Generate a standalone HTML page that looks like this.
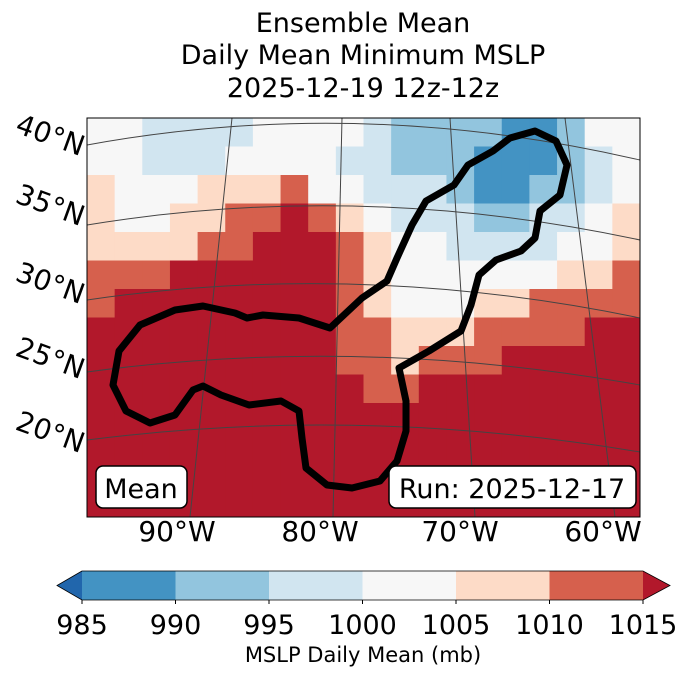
<!DOCTYPE html>
<html><head><meta charset="utf-8"><style>
body{margin:0;background:#fff;width:688px;height:674px;overflow:hidden;font-family:"DejaVu Sans","Liberation Sans",sans-serif}
svg text{font-family:"DejaVu Sans","Liberation Sans",sans-serif}
</style></head><body>
<svg width="688" height="674" xmlns="http://www.w3.org/2000/svg" id="svg">
<g font-size="27" text-anchor="middle" fill="#000">
<text x="363" y="32">Ensemble Mean</text>
<text x="363" y="64">Daily Mean Minimum MSLP</text>
<text x="363" y="97">2025-12-19 12z-12z</text>
</g>
<defs><clipPath id="mc"><rect x="87" y="118" width="553" height="399"/></clipPath></defs>
<g id="field" clip-path="url(#mc)"></g>
<g clip-path="url(#mc)" fill="none" stroke="#444" stroke-width="1">
<path d="M87,145 Q360,95 640,160"/>
<path d="M87,225 Q360,180 640,240"/>
<path d="M87,300 Q360,260 640,318"/>
<path d="M87,372 Q360,335 640,385"/>
<path d="M87,440 Q360,405 640,452"/>
<path d="M190,517 L232,118"/><path d="M333,517 L342,118"/><path d="M475,517 L450,118"/><path d="M615,517 L565,118"/>
</g>
<path clip-path="url(#mc)" fill="none" stroke="#000" stroke-width="7" stroke-linejoin="round" d="M330,328 L299,318 L263,315 L247,318 L235,313 L203,306 L175,310 L140,325 L119,351 L113,385 L126,411 L150,423 L175,415 L193,390 L203,386 L221,395 L249,405 L281,401 L299,411 L302,438 L306,468 L327,485 L352,488 L380,481 L397,461 L406,431 L406,401 L399,368 L429,351 L461,331 L471,305 L479,275 L496,260 L521,251 L535,238 L540,211 L560,195 L567,165 L556,141 L535,131 L510,138 L493,151 L468,165 L454,185 L426,201 L412,225 L397,258 L387,281 L362,298 Z"/>
<rect x="87" y="118" width="553" height="399" fill="none" stroke="#000" stroke-width="1"/>
<g font-size="28">
<text transform="translate(14,132) rotate(20)">40°N</text>
<text transform="translate(14,202) rotate(20)">35°N</text>
<text transform="translate(14,280) rotate(20)">30°N</text>
<text transform="translate(14,355) rotate(20)">25°N</text>
<text transform="translate(14,429) rotate(20)">20°N</text>
</g>
<g font-size="28" text-anchor="middle">
<text x="177" y="541">90°W</text><text x="320" y="541">80°W</text><text x="460" y="541">70°W</text><text x="603" y="541">60°W</text>
</g>
<g><rect x="96" y="466" width="91" height="42" rx="7" fill="#fff" stroke="#000" stroke-width="1.5"/><text x="141" y="498" font-size="27" text-anchor="middle">Mean</text></g>
<g><rect x="389" y="466" width="247" height="42" rx="7" fill="#fff" stroke="#000" stroke-width="1.5"/><text x="512" y="498" font-size="27" text-anchor="middle">Run: 2025-12-17</text></g>
<g id="cbar"></g>
<text x="363" y="662" font-size="21" text-anchor="middle">MSLP Daily Mean (mb)</text>
</svg>
<script>
const colors=["#2166ac","#4393c3","#92c5de","#d1e5f0","#f7f7f7","#fddbc7","#d6604d","#b2182b"];
const levels=[985,990,995,1000,1005,1010,1015];
const fieldRows=[
[4,4,3,3,3,3,4,4,4,4,3,2,2,2,2,1,1,2,4,4],
[4,4,3,3,3,4,4,4,4,3,3,2,2,2,1,1,1,2,3,4],
[5,4,4,4,5,5,5,6,4,4,3,3,3,2,1,1,2,2,3,4],
[5,4,4,5,5,6,6,7,6,5,4,3,3,3,2,2,3,3,4,5],
[5,5,5,5,6,6,7,7,7,6,5,4,4,3,3,3,3,4,4,5],
[6,6,6,7,7,7,7,7,7,6,5,4,4,4,4,4,4,5,5,6],
[6,7,7,7,7,7,7,7,7,6,5,4,4,4,5,5,6,6,6,6],
[7,7,7,7,7,7,7,7,7,6,6,5,5,5,6,6,6,6,7,7],
[7,7,7,7,7,7,7,7,7,6,6,5,6,6,6,7,7,7,7,7],
[7,7,7,7,7,7,7,7,7,7,6,6,7,7,7,7,7,7,7,7],
[7,7,7,7,7,7,7,7,7,7,7,7,7,7,7,7,7,7,7,7],
[7,7,7,7,7,7,7,7,7,7,7,7,7,7,7,7,7,7,7,7],
[7,7,7,7,7,7,7,7,7,7,7,7,7,7,7,7,7,7,7,7],
[7,7,7,7,7,7,7,7,7,7,7,7,7,7,7,7,7,7,7,7]];
const NS="http://www.w3.org/2000/svg";
const x0=87,y0=118,W=553,H=399;
const f=document.getElementById('field');
const nr=fieldRows.length,nc=fieldRows[0].length,cw=W/nc,ch=H/nr;
fieldRows.forEach((row,r)=>row.forEach((v,c)=>{
 const e=document.createElementNS(NS,'rect');
 e.setAttribute('x',x0+c*cw);e.setAttribute('y',y0+r*ch);
 e.setAttribute('width',cw+0.6);e.setAttribute('height',ch+0.6);
 e.setAttribute('fill',colors[v]);
 
 
 f.appendChild(e);}));
const cb=document.getElementById('cbar');
const cx0=82,cx1=643,cy=571,chh=29;
const sx=v=>cx0+(v-levels[0])/(levels[levels.length-1]-levels[0])*(cx1-cx0);
const la=document.createElementNS(NS,'path');
la.setAttribute('d',`M${cx0},${cy} L57,${cy+chh/2} L${cx0},${cy+chh} Z`);la.setAttribute('fill',colors[0]);


cb.appendChild(la);
for(let i=0;i<levels.length-1;i++){
 const e=document.createElementNS(NS,'rect');
 e.setAttribute('x',sx(levels[i]));e.setAttribute('y',cy);e.setAttribute('width',sx(levels[i+1])-sx(levels[i])+0.5);e.setAttribute('height',chh);
 e.setAttribute('fill',colors[i+1]);
 
 
 cb.appendChild(e);}
const ra=document.createElementNS(NS,'path');
ra.setAttribute('d',`M${cx1},${cy} L670,${cy+chh/2} L${cx1},${cy+chh} Z`);ra.setAttribute('fill',colors[7]);


cb.appendChild(ra);
const ol=document.createElementNS(NS,'path');
ol.setAttribute('d',`M${cx0},${cy} L57,${cy+chh/2} L${cx0},${cy+chh} L${cx1},${cy+chh} L670,${cy+chh/2} L${cx1},${cy} Z`);
ol.setAttribute('fill','none');ol.setAttribute('stroke','#000');ol.setAttribute('stroke-width','0.8');


cb.appendChild(ol);
levels.forEach(v=>{
 const t=document.createElementNS(NS,'text');
 t.setAttribute('x',sx(v));t.setAttribute('y',634);t.setAttribute('font-size','27');t.setAttribute('text-anchor','middle');
 t.textContent=v;
 
 
 cb.appendChild(t);
 const k=document.createElementNS(NS,'line');
 k.setAttribute('x1',sx(v));k.setAttribute('x2',sx(v));k.setAttribute('y1',cy+chh);k.setAttribute('y2',cy+chh+4);k.setAttribute('stroke','#000');
 
 
 cb.appendChild(k);});
</script>
</body></html>
